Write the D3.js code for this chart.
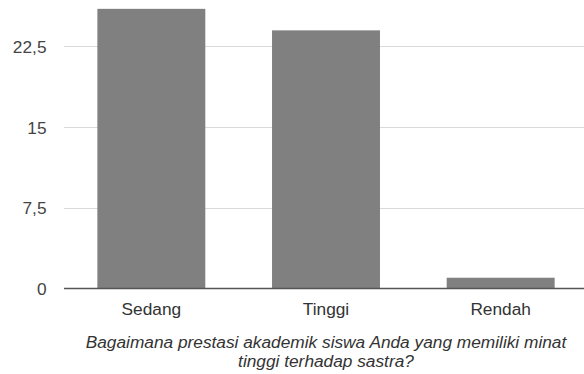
<!DOCTYPE html>
<html>
<head>
<meta charset="utf-8" />
<script src="https://d3js.org/d3.v7.min.js"></script>
<style>
  body { margin: 0; background: #fff; }
  text { font-family: "Liberation Sans", Arial, sans-serif; }
</style>
</head>
<body>
<div id="chart"></div>
<script>
// data
var categories = ["Sedang", "Tinggi", "Rendah"];
var values = [26, 24, 1];
var yTicks = [0, 7.5, 15, 22.5];
var titleLines = ["Bagaimana prestasi akademik siswa Anda yang memiliki minat",
                  "tinggi terhadap sastra?"];

var width = 584, height = 374;
var left = 64, right = 588, zeroY = 288.5, pxPerUnit = 10.756;
var fontSize = 17.3;

var svg = d3.select("#chart").append("svg")
    .attr("width", width)
    .attr("height", height);

var x = d3.scaleBand()
    .domain(categories)
    .range([left, right])
    .paddingInner(0.382)
    .paddingOuter(0.191);

var y = d3.scaleLinear()
    .domain([0, 30])
    .range([zeroY, zeroY - 30 * pxPerUnit]);

// gridlines
svg.append("g")
  .selectAll("line")
  .data(yTicks.filter(function(d) { return d > 0; }))
  .enter().append("line")
    .attr("x1", left).attr("x2", width)
    .attr("y1", function(d) { return Math.round(y(d)) + 0.5; })
    .attr("y2", function(d) { return Math.round(y(d)) + 0.5; })
    .attr("stroke", "#d9d9d9")
    .attr("stroke-width", 1.2);

// y tick labels
var fmt = function(d) { return String(d).replace(".", ","); };
svg.append("g")
  .selectAll("text")
  .data(yTicks)
  .enter().append("text")
    .attr("x", 46.5)
    .attr("y", function(d) { return y(d) + 6.5; })
    .attr("text-anchor", "end")
    .attr("font-size", fontSize)
    .attr("fill", "#444")
    .text(fmt);

// bars
svg.append("g")
  .selectAll("rect")
  .data(values)
  .enter().append("rect")
    .attr("x", function(d, i) { return x(categories[i]); })
    .attr("width", x.bandwidth())
    .attr("y", function(d) { return y(d); })
    .attr("height", function(d) { return y(0) - y(d); })
    .attr("fill", "#808080");

// baseline
svg.append("line")
    .attr("x1", left).attr("x2", width)
    .attr("y1", zeroY).attr("y2", zeroY)
    .attr("stroke", "#555")
    .attr("stroke-width", 1.3);

// category labels
svg.append("g")
  .selectAll("text")
  .data(categories)
  .enter().append("text")
    .attr("x", function(d) { return x(d) + x.bandwidth() / 2; })
    .attr("y", 314.5)
    .attr("text-anchor", "middle")
    .attr("font-size", fontSize)
    .attr("fill", "#333")
    .text(function(d) { return d; });

// axis title
svg.append("g")
  .selectAll("text")
  .data(titleLines)
  .enter().append("text")
    .attr("x", (left + right) / 2)
    .attr("y", function(d, i) { return 347.5 + i * 19.5; })
    .attr("text-anchor", "middle")
    .attr("font-size", fontSize)
    .attr("font-style", "italic")
    .attr("fill", "#333")
    .text(function(d) { return d; });
</script>
</body>
</html>
